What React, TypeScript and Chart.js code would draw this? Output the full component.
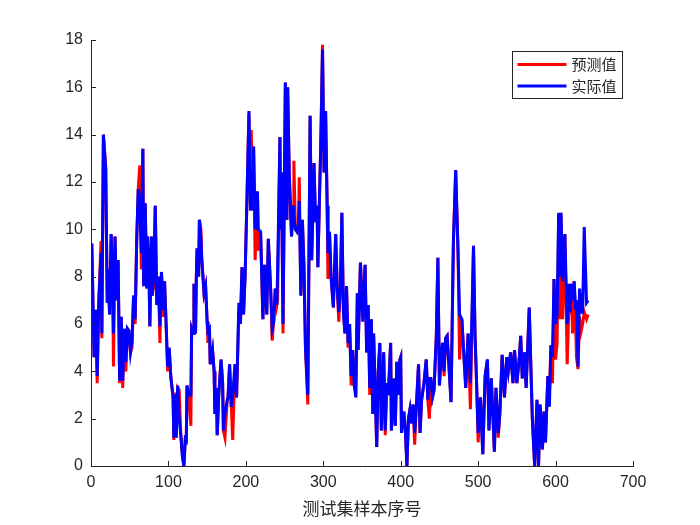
import { useEffect, useRef } from 'react';
import { Chart, registerables, Plugin } from 'chart.js';

Chart.register(...registerables);

// sample index of each read-off point
const sampleIdx = [
  1, 4, 6, 8, 10, 13, 14, 16, 19, 21, 22, 24, 26, 28, 29, 31, 33, 35, 37, 39,
  41, 43, 45, 47, 49, 51, 53, 55, 57, 59, 61, 63, 65, 67, 68, 70, 72, 73, 75, 76,
  78, 79, 81, 83, 85, 87, 89, 91, 93, 95, 97, 99, 101, 103, 106, 107, 109, 110, 112, 114,
  116, 118, 120, 122, 123, 124, 126, 129, 130, 132, 133, 135, 136, 137, 139, 140, 142, 143, 146, 148,
  150, 151, 153, 154, 157, 159, 160, 162, 163, 165, 168, 170, 171, 173, 176, 177, 179, 181, 183, 186,
  188, 191, 193, 195, 197, 199, 201, 204, 206, 207, 209, 210, 212, 215, 216, 219, 221, 222, 224, 227,
  229, 232, 234, 236, 238, 240, 241, 244, 245, 246, 248, 251, 253, 254, 256, 259, 261, 262, 264, 266,
  268, 269, 271, 273, 275, 277, 280, 283, 285, 286, 288, 290, 292, 293, 295, 297, 299, 301, 303, 305,
  306, 308, 310, 313, 316, 318, 320, 322, 324, 326, 328, 330, 332, 334, 336, 338, 340, 342, 344, 345,
  348, 351, 354, 356, 358, 360, 362, 364, 365, 369, 371, 373, 375, 378, 380, 382, 384, 387, 388, 391,
  393, 395, 397, 399, 400, 401, 404, 406, 408, 410, 412, 414, 416, 418, 420, 423, 425, 427, 430, 433,
  435, 437, 439, 441, 443, 446, 448, 450, 452, 454, 456, 458, 460, 465, 468, 471, 474, 476, 479, 481,
  484, 487, 490, 494, 496, 498, 500, 503, 506, 509, 512, 514, 517, 521, 523, 526, 528, 531, 534, 537,
  539, 542, 545, 547, 550, 553, 555, 557, 560, 562, 566, 568, 570, 573, 576, 578, 580, 583, 585, 587,
  590, 592, 594, 596, 598, 600, 602, 604, 605, 607, 609, 612, 615, 617, 619, 620, 622, 624, 626, 627,
  629, 631, 633, 635, 637, 640, 642,
];

// 实际值
const actualVals = [
  9.4, 4.6, 6.6, 3.8, 6.9, 9.0, 5.6, 14.0, 12.6, 6.9, 8.3, 6.4, 9.8, 7.5, 5.6, 9.7, 7.0, 8.7, 3.6, 6.3,
  3.6, 5.8, 4.4, 5.8, 5.7, 4.8, 5.3, 7.2, 6.2, 9.5, 11.7, 11.2, 9.0, 13.4, 7.6, 11.1, 7.5, 9.7, 8.0, 5.9,
  9.7, 7.2, 8.0, 11.0, 6.8, 8.0, 5.9, 8.2, 6.6, 7.8, 6.0, 4.2, 5.0, 3.8, 2.9, 1.2, 3.0, 1.2, 3.4, 2.0,
  1.3, 0.4, 0.0, 1.3, 0.9, 3.4, 3.0, 3.0, 5.8, 5.6, 7.7, 5.6, 7.9, 9.2, 8.0, 10.4, 9.6, 8.8, 7.3, 7.6,
  6.1, 5.7, 5.8, 4.3, 4.9, 4.0, 2.2, 3.3, 1.3, 3.0, 4.5, 3.5, 1.5, 2.2, 2.8, 2.9, 4.3, 2.5, 3.0, 4.3,
  2.9, 6.9, 6.0, 8.4, 6.4, 8.0, 10.7, 15.0, 10.8, 12.5, 10.8, 13.5, 10.0, 11.6, 10.0, 9.9, 7.5, 6.2, 8.5, 6.4,
  9.6, 7.5, 5.8, 6.1, 7.5, 6.8, 8.2, 13.9, 10.0, 12.4, 6.0, 16.2, 10.4, 16.0, 12.4, 9.7, 11.0, 10.6, 10.0, 9.9,
  10.2, 11.2, 7.2, 10.4, 8.5, 5.0, 3.0, 14.8, 8.7, 10.0, 12.8, 10.3, 11.0, 8.4, 11.2, 14.0, 17.6, 12.4, 15.0, 11.0,
  9.0, 9.9, 8.0, 6.7, 9.8, 7.5, 6.5, 7.5, 10.7, 6.5, 5.6, 7.6, 5.2, 6.0, 3.8, 4.9, 3.4, 2.9, 7.3, 4.9,
  8.6, 6.1, 8.5, 4.8, 6.8, 3.3, 6.2, 2.2, 5.6, 0.8, 4.0, 5.2, 1.5, 4.8, 1.5, 3.5, 3.0, 5.2, 1.5, 3.7,
  1.7, 4.4, 3.0, 4.5, 4.6, 1.4, 2.3, 1.5, 0.0, 2.0, 2.4, 1.8, 2.6, 1.4, 2.4, 4.3, 1.4, 2.8, 3.5, 4.5,
  2.8, 3.7, 3.7, 2.9, 3.2, 5.5, 8.8, 3.4, 4.5, 5.2, 4.0, 5.4, 5.5, 2.7, 9.4, 12.5, 9.1, 6.4, 6.2, 5.0,
  3.3, 5.6, 3.5, 9.3, 5.5, 3.5, 1.4, 2.9, 0.5, 3.8, 4.5, 1.5, 3.7, 0.6, 3.3, 1.4, 2.2, 4.7, 2.9, 4.6,
  4.0, 4.8, 3.5, 4.9, 3.5, 4.5, 5.5, 3.7, 4.8, 3.3, 6.7, 4.3, 2.0, 0.0, 2.8, 0.0, 2.6, 0.7, 2.3, 1.0,
  3.8, 2.5, 5.1, 4.6, 7.9, 6.0, 6.4, 10.7, 8.0, 10.7, 7.8, 9.8, 6.0, 7.7, 6.5, 7.7, 7.0, 7.8, 6.6, 7.0,
  4.2, 7.5, 6.5, 6.5, 10.1, 6.9, 7.0,
];

// 预测值
const predictedVals = [
  9.4, 4.6, 6.6, 3.5, 6.9, 9.5, 5.4, 14.0, 12.6, 6.9, 8.3, 6.4, 9.8, 7.5, 4.2, 9.7, 7.2, 8.7, 3.5, 6.3,
  3.3, 5.8, 4.0, 5.8, 5.7, 4.8, 5.0, 7.2, 6.0, 9.5, 11.7, 12.7, 8.3, 13.4, 7.6, 11.1, 7.5, 9.7, 8.0, 5.9,
  9.7, 7.2, 7.6, 11.0, 6.8, 8.0, 5.2, 8.2, 6.3, 7.8, 6.0, 4.0, 4.9, 3.8, 2.9, 1.1, 3.1, 1.2, 3.3, 3.2,
  1.3, 0.5, 0.0, 1.3, 1.0, 3.4, 3.0, 1.7, 5.8, 5.6, 7.7, 5.6, 7.9, 9.2, 8.0, 10.4, 10.0, 8.8, 7.3, 7.6,
  6.1, 5.2, 5.8, 4.3, 4.9, 4.0, 2.2, 3.3, 1.3, 3.0, 4.5, 3.5, 1.5, 1.2, 2.8, 2.9, 4.3, 2.8, 1.1, 4.3,
  2.9, 6.6, 6.0, 8.4, 6.4, 8.0, 10.7, 14.9, 10.8, 14.2, 10.8, 13.5, 8.7, 11.6, 9.1, 9.9, 7.5, 6.2, 8.5, 6.4,
  9.6, 7.5, 5.3, 6.1, 7.5, 6.8, 7.0, 13.9, 10.0, 12.4, 5.6, 16.2, 10.4, 16.0, 12.4, 9.7, 11.0, 12.9, 10.0, 9.9,
  10.2, 12.2, 7.2, 10.4, 8.5, 5.0, 2.6, 14.8, 8.7, 10.0, 12.8, 10.3, 11.0, 8.4, 11.2, 14.0, 17.8, 12.4, 15.0, 11.0,
  7.9, 9.9, 8.0, 6.7, 9.8, 7.5, 6.1, 7.5, 10.7, 6.5, 5.6, 7.6, 5.0, 6.0, 3.4, 4.9, 3.4, 3.2, 7.3, 4.9,
  8.6, 6.5, 8.5, 4.8, 6.8, 3.0, 6.2, 2.2, 5.6, 0.8, 4.0, 5.2, 1.5, 4.8, 1.3, 3.5, 3.0, 5.2, 1.5, 3.7,
  1.7, 4.4, 3.3, 4.5, 4.6, 1.4, 2.3, 1.5, 0.0, 2.0, 2.4, 1.8, 2.6, 0.9, 2.4, 4.3, 1.4, 2.8, 3.5, 4.5,
  2.8, 2.0, 3.7, 2.9, 3.2, 5.5, 8.8, 3.4, 4.5, 5.2, 3.8, 5.4, 5.5, 2.7, 9.4, 12.5, 9.1, 4.5, 6.2, 5.0,
  3.3, 5.6, 2.4, 9.3, 5.5, 3.5, 1.0, 2.9, 0.5, 3.8, 4.5, 1.5, 3.7, 0.6, 3.3, 1.2, 2.2, 4.7, 2.9, 4.6,
  4.0, 4.8, 3.5, 4.9, 3.5, 4.5, 5.5, 3.7, 4.8, 3.3, 6.7, 4.3, 2.0, 0.0, 2.8, 0.0, 2.6, 0.7, 2.3, 1.0,
  3.8, 3.0, 5.1, 3.5, 7.9, 4.5, 5.2, 10.6, 6.2, 10.7, 6.2, 9.8, 4.3, 6.5, 6.5, 7.7, 5.6, 7.8, 5.8, 4.6,
  4.1, 6.3, 5.7, 6.0, 6.5, 6.2, 6.4,
];

const xTicks = [0, 100, 200, 300, 400, 500, 600, 700];
const yTicks = [0, 2, 4, 6, 8, 10, 12, 14, 16, 18];

const legendLabels = ['预测值', '实际值'];
const legendColors = ['#ff0000', '#0000ff'];

const axisColor = '#262626';
const cjkFont = '"Noto Sans CJK SC", sans-serif';
const numFont = '"Liberation Sans", Arial, sans-serif';

// inward tick marks + legend box in the upper right corner (MATLAB style)
const matlabAxesPlugin: Plugin<'line'> = {
  id: 'matlabAxes',
  afterDatasetsDraw(chart) {
    const { ctx, chartArea, scales } = chart;
    const xs = scales.x;
    const ys = scales.y;
    ctx.save();
    ctx.strokeStyle = axisColor;
    ctx.lineWidth = 1;
    ctx.beginPath();
    yTicks.forEach((v) => {
      const py = Math.round(ys.getPixelForValue(v)) + 0.5;
      ctx.moveTo(chartArea.left, py);
      ctx.lineTo(chartArea.left + 5, py);
    });
    xTicks.forEach((v) => {
      const px = Math.round(xs.getPixelForValue(v)) + 0.5;
      ctx.moveTo(px, chartArea.bottom);
      ctx.lineTo(px, chartArea.bottom - 5);
    });
    ctx.stroke();

    // legend
    const boxL = chartArea.right - 121 + 0.5;
    const boxT = chartArea.top + 11 + 0.5;
    const boxW = 110;
    const boxH = 47;
    ctx.fillStyle = '#ffffff';
    ctx.fillRect(boxL, boxT, boxW, boxH);
    ctx.strokeRect(boxL, boxT, boxW, boxH);
    ctx.font = '15px ' + cjkFont;
    ctx.textBaseline = 'middle';
    ctx.textAlign = 'left';
    legendLabels.forEach((label, i) => {
      const ly = boxT + 13 + i * 21.5;
      ctx.strokeStyle = legendColors[i];
      ctx.lineWidth = 3;
      ctx.beginPath();
      ctx.moveTo(boxL + 5, ly);
      ctx.lineTo(boxL + 54, ly);
      ctx.stroke();
      ctx.fillStyle = axisColor;
      ctx.fillText(label, boxL + 59, ly);
    });
    ctx.restore();
  },
};

export default function App() {
  const canvasRef = useRef<HTMLCanvasElement>(null);
  const chartRef = useRef<Chart<'line'> | null>(null);

  useEffect(() => {
    if (!canvasRef.current) return;
    if (chartRef.current) chartRef.current.destroy();

    const predictedPts = sampleIdx.map((x, i) => ({ x, y: predictedVals[i] }));
    const actualPts = sampleIdx.map((x, i) => ({ x, y: actualVals[i] }));

    chartRef.current = new Chart(canvasRef.current, {
      type: 'line',
      data: {
        datasets: [
          {
            label: legendLabels[0],
            data: predictedPts,
            borderColor: legendColors[0],
            borderWidth: 3,
            pointRadius: 0,
            tension: 0,
            order: 2,
          },
          {
            label: legendLabels[1],
            data: actualPts,
            borderColor: legendColors[1],
            borderWidth: 3,
            pointRadius: 0,
            tension: 0,
            order: 1,
          },
        ],
      },
      options: {
        animation: false,
        responsive: true,
        maintainAspectRatio: false,
        layout: { padding: { left: 0, right: 67, top: 40, bottom: 0 } },
        plugins: {
          legend: { display: false },
          tooltip: { enabled: false },
        },
        scales: {
          x: {
            type: 'linear',
            min: 0,
            max: 700,
            afterFit: (scale) => {
              scale.height = 59;
            },
            afterBuildTicks: (scale) => {
              scale.ticks = xTicks.map((v) => ({ value: v }));
            },
            grid: { drawOnChartArea: false, drawTicks: false },
            border: { display: true, color: axisColor, width: 1 },
            ticks: {
              padding: 7,
              color: axisColor,
              font: { family: numFont, size: 16 },
              maxRotation: 0,
            },
            title: {
              display: true,
              text: '测试集样本序号',
              color: axisColor,
              font: { family: cjkFont, size: 17 },
              padding: { top: 4, bottom: 6 },
            },
          },
          y: {
            type: 'linear',
            min: 0,
            max: 18,
            afterFit: (scale) => {
              scale.width = 91;
            },
            afterBuildTicks: (scale) => {
              scale.ticks = yTicks.map((v) => ({ value: v }));
            },
            grid: { drawOnChartArea: false, drawTicks: false },
            border: { display: true, color: axisColor, width: 1 },
            ticks: {
              padding: 8,
              color: axisColor,
              font: { family: numFont, size: 16 },
            },
          },
        },
      },
      plugins: [matlabAxesPlugin],
    });

    return () => {
      if (chartRef.current) {
        chartRef.current.destroy();
        chartRef.current = null;
      }
    };
  }, []);

  return (
    <div
      style={{
        position: 'fixed',
        left: 0,
        top: 0,
        width: 700,
        height: 525,
        background: '#ffffff',
      }}
    >
      <canvas ref={canvasRef}></canvas>
    </div>
  );
}
